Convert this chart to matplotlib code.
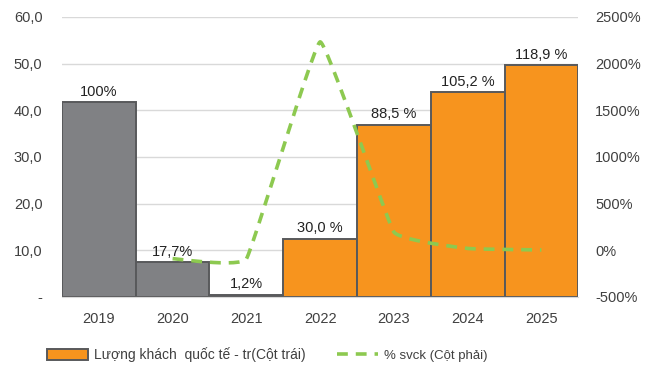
import numpy as np
import matplotlib.pyplot as plt
from matplotlib.patches import Patch
from matplotlib.lines import Line2D

plt.rcParams['font.family'] = ['Liberation Sans', 'DejaVu Sans']

years = ['2019', '2020', '2021', '2022', '2023', '2024', '2025']
guests = [41.7, 7.4, 0.5, 12.5, 36.9, 43.9, 49.6]  # triệu lượt
labels = ['100%', '17,7%', '1,2%', '30,0 %', '88,5 %', '105,2 %', '118,9 %']
yoy_years = ['2020', '2021', '2022', '2023', '2024', '2025']
yoy = [-90.0, -93.0, 2233.0, 195.0, 19.0, 3.0]  # % svck

gray = '#808184'
orange = '#F7941E'
edge = '#58595B'
green = '#8DC950'
txt = '#404040'


def smooth(xs, ys, k=0.25, n=30):
    # bezier nối các điểm, độ cong nhẹ (k=1 tương đương Catmull-Rom)
    xs = np.asarray(xs, float)
    ys = np.asarray(ys, float)
    px = np.r_[xs[0], xs, xs[-1]]
    py = np.r_[ys[0], ys, ys[-1]]
    outx, outy = [], []
    t = np.linspace(0, 1, n)
    for i in range(1, len(px) - 2):
        for p, out in ((px, outx), (py, outy)):
            p0, p1, p2, p3 = p[i - 1], p[i], p[i + 1], p[i + 2]
            c1 = p1 + k * (p2 - p0) / 6
            c2 = p2 - k * (p3 - p1) / 6
            out.extend((1 - t) ** 3 * p1 + 3 * (1 - t) ** 2 * t * c1
                       + 3 * (1 - t) * t ** 2 * c2 + t ** 3 * p2)
    return np.array(outx), np.array(outy)


fig = plt.figure(figsize=(6.52, 3.67), dpi=100)
ax = fig.add_axes([0.095, 0.191, 0.792, 0.763])
ax2 = ax.twinx()

x = np.arange(len(years))
colors = [gray, gray, gray, orange, orange, orange, orange]
ax.bar(x, guests, width=1.0, color=colors, edgecolor=edge, linewidth=1.4, zorder=2)
for xi, v, lb in zip(x, guests, labels):
    ax.text(xi, v + 0.7, lb, ha='center', va='bottom', fontsize=10.5, color='#222222')

ax.set_xlim(-0.5, len(years) - 0.5)
ax.set_ylim(0, 60)
ax.set_yticks(np.arange(0, 61, 10))
ax.set_yticklabels(['-'] + ['%d,0' % v for v in range(10, 61, 10)])
ax.set_xticks(x)
ax.set_xticklabels(years)
ax.grid(axis='y', color='#D9D9D9', linewidth=1, zorder=0)
ax.set_axisbelow(True)

yx = [years.index(y) for y in yoy_years]
sx, sy = smooth(yx, yoy)
ax2.plot(sx, sy, color=green, linewidth=2.6, dashes=(3, 2.2), zorder=3)
ax2.set_ylim(-500, 2500)
ax2.set_yticks(np.arange(-500, 2501, 500))
ax2.set_yticklabels(['%d%%' % v for v in range(-500, 2501, 500)])

for a in (ax, ax2):
    for s in a.spines.values():
        s.set_visible(False)
    a.tick_params(length=0, labelsize=10.5, colors=txt)
ax.tick_params(axis='x', labelsize=10.5)
ax.spines['bottom'].set_visible(True)
ax.spines['bottom'].set_color('#D9D9D9')
ax.tick_params(axis='y', pad=14)
ax.tick_params(axis='x', pad=11)
ax2.tick_params(axis='y', pad=12)

handles = [Patch(facecolor=orange, edgecolor=edge, linewidth=1.4),
           Line2D([], [], color=green, linewidth=2.6, dashes=(3, 2.2))]
leg = fig.legend(handles, ['Lượng khách  quốc tế - tr(Cột trái)', '% svck (Cột phải)'],
                 loc='center', bbox_to_anchor=(0.41, 0.033), ncol=2, frameon=False,
                 handlelength=2.9, handleheight=0.9, columnspacing=2.3, handletextpad=0.45,
                 fontsize=10)
leg.get_texts()[1].set_fontsize(9.5)
for t in leg.get_texts():
    t.set_color(txt)

fig.savefig('out.png', dpi=100)
